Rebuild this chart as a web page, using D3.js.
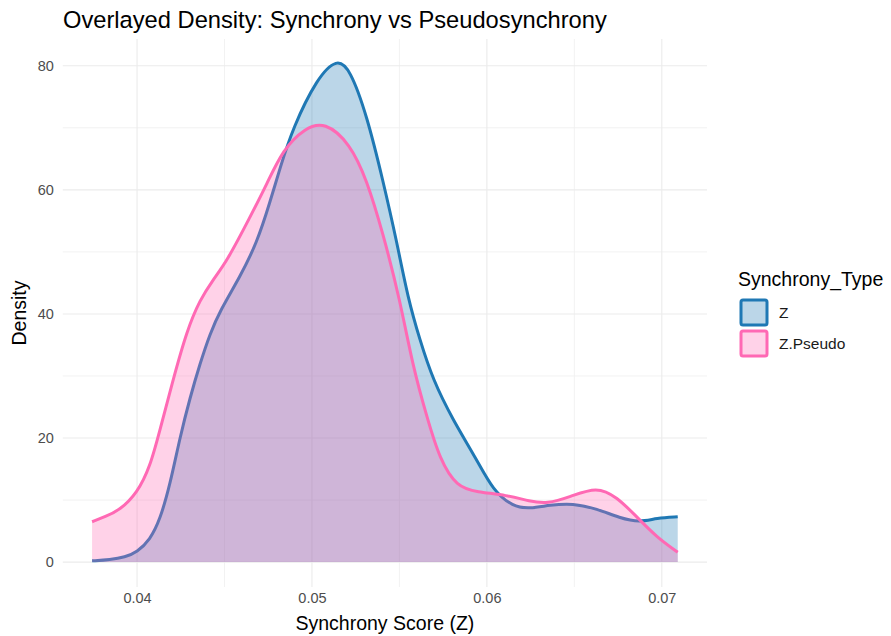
<!DOCTYPE html>
<html>
<head>
<meta charset="utf-8">
<script src="https://cdn.jsdelivr.net/npm/d3@7"></script>
<style>
  body { margin: 0; background: #fff; }
  text { font-family: "Liberation Sans", Arial, sans-serif; }
</style>
</head>
<body>
<div id="chart"></div>
<script>
// density estimates
var zX = [0.03743, 0.03846, 0.03931, 0.04000, 0.04074, 0.04131, 0.04189, 0.04246, 0.04303, 0.04360,
          0.04417, 0.04474, 0.04589, 0.04686, 0.04760, 0.04817, 0.04891, 0.05029, 0.05143, 0.05217,
          0.05314, 0.05406, 0.05486, 0.05549, 0.05617, 0.05691, 0.05806, 0.05943, 0.06034, 0.06149,
          0.06246, 0.06360, 0.06491, 0.06629, 0.06760, 0.06874, 0.06971, 0.07091];
var zY = [0.2, 0.4, 0.8, 1.6, 3.6, 6.8, 12.5, 20.2, 26.5, 32,
          36.8, 40.5, 46, 51.5, 58, 63.5, 70, 78, 81.2, 79.5,
          72, 61.5, 51.5, 42.5, 35.8, 29.4, 22.9, 16.5, 11.6, 8.9,
          8.6, 9.2, 9.5, 8.6, 7.1, 6.4, 7.1, 7.3];

var pX = [0.03743, 0.03817, 0.03903, 0.04000, 0.04074, 0.04131, 0.04206, 0.04286, 0.04360, 0.04434,
          0.04514, 0.04646, 0.04743, 0.04834, 0.04960, 0.05074, 0.05217, 0.05314, 0.05406, 0.05503,
          0.05577, 0.05657, 0.05731, 0.05829, 0.05943, 0.06114, 0.06246, 0.06343, 0.06474, 0.06629,
          0.06743, 0.06857, 0.06971, 0.07091];
var pY = [6.5, 7.3, 8.4, 11.1, 15.3, 21.3, 29.4, 37.4, 42.3, 45.5,
          48.5, 55.6, 61, 66.5, 70, 71, 67.5, 61.6, 53, 42.3,
          31.5, 23.4, 16.5, 12.1, 11.3, 10.8, 9.8, 9.4, 10.5, 12.2,
          10.5, 7.3, 4.0, 1.6];

var groups = ["Z", "Z.Pseudo"];
var lineColors = ["#1f78b4", "#ff69b4"];
var xTicks = [0.04, 0.05, 0.06, 0.07];
var yTicks = [0, 20, 40, 60, 80];

var W = 891, H = 636;
var pLeft = 62.8, pRight = 707, pTop = 39, pBottom = 587;

var svg = d3.select("#chart").append("svg")
    .attr("width", W)
    .attr("height", H);

// ggplot style 5% expansion
var xExt = [d3.min(zX.concat(pX)), d3.max(zX.concat(pX))];
var xPad = (xExt[1] - xExt[0]) * 0.05;
var yMax = 80.3;
var yPad = yMax * 0.05;

var x = d3.scaleLinear().domain([xExt[0] - xPad, xExt[1] + xPad]).range([pLeft, pRight]);
var y = d3.scaleLinear().domain([-yPad, yMax + yPad]).range([pBottom, pTop]);

// grid
var xMinor = [0.045, 0.055, 0.065];
var yMinor = [10, 30, 50, 70];
var grid = svg.append("g");
grid.selectAll(".xm").data(xMinor).enter().append("line")
    .attr("x1", d => x(d)).attr("x2", d => x(d))
    .attr("y1", pTop).attr("y2", pBottom)
    .attr("stroke", "#f1f1f1").attr("stroke-width", 0.9);
grid.selectAll(".ym").data(yMinor).enter().append("line")
    .attr("y1", d => y(d)).attr("y2", d => y(d))
    .attr("x1", pLeft).attr("x2", pRight)
    .attr("stroke", "#f1f1f1").attr("stroke-width", 0.9);
grid.selectAll(".xM").data(xTicks).enter().append("line")
    .attr("x1", d => x(d)).attr("x2", d => x(d))
    .attr("y1", pTop).attr("y2", pBottom)
    .attr("stroke", "#ebebeb").attr("stroke-width", 1.1);
grid.selectAll(".yM").data(yTicks).enter().append("line")
    .attr("y1", d => y(d)).attr("y2", d => y(d))
    .attr("x1", pLeft).attr("x2", pRight)
    .attr("stroke", "#ebebeb").attr("stroke-width", 1.1);

// densities
var series = [
    { name: groups[0], color: lineColors[0], pts: zX.map((v, i) => [v, zY[i]]) },
    { name: groups[1], color: lineColors[1], pts: pX.map((v, i) => [v, pY[i]]) }
];

var area = d3.area()
    .x(d => x(d[0])).y0(y(0)).y1(d => y(d[1]))
    .curve(d3.curveBasis);
var line = d3.line()
    .x(d => x(d[0])).y(d => y(d[1]))
    .curve(d3.curveBasis);

series.forEach(function(s) {
    svg.append("path")
        .attr("d", area(s.pts))
        .attr("fill", s.color)
        .attr("fill-opacity", 0.3);
    svg.append("path")
        .attr("d", line(s.pts))
        .attr("fill", "none")
        .attr("stroke", s.color)
        .attr("stroke-width", 3);
});

// axes (labels only, like theme_minimal)
var xAxis = svg.append("g")
    .attr("transform", "translate(0," + (pBottom + 5) + ")")
    .call(d3.axisBottom(x).tickValues(xTicks).tickSize(0).tickPadding(0).tickFormat(d3.format(".2f")));
xAxis.select(".domain").remove();
xAxis.selectAll("text")
    .attr("fill", "#4d4d4d").attr("font-size", 14.5).attr("dy", "0.75em");

var yAxis = svg.append("g")
    .attr("transform", "translate(" + (pLeft - 9) + ",0)")
    .call(d3.axisLeft(y).tickValues(yTicks).tickSize(0).tickPadding(0));
yAxis.select(".domain").remove();
yAxis.selectAll("text")
    .attr("fill", "#4d4d4d").attr("font-size", 14.5);

// titles
svg.append("text")
    .attr("x", 63).attr("y", 28)
    .attr("font-size", 23.7).attr("fill", "#000")
    .text("Overlayed Density: Synchrony vs Pseudosynchrony");

svg.append("text")
    .attr("x", (pLeft + pRight) / 2).attr("y", 630)
    .attr("text-anchor", "middle")
    .attr("font-size", 19.5).attr("fill", "#000")
    .text("Synchrony Score (Z)");

svg.append("text")
    .attr("transform", "translate(26," + ((pTop + pBottom) / 2) + ") rotate(-90)")
    .attr("text-anchor", "middle")
    .attr("font-size", 19.5).attr("fill", "#000")
    .text("Density");

// legend
var legend = svg.append("g");
legend.append("text")
    .attr("x", 738).attr("y", 286)
    .attr("font-size", 19.5).attr("fill", "#000")
    .text("Synchrony_Type");

var keys = legend.selectAll(".key").data(series).enter().append("g")
    .attr("transform", (d, i) => "translate(741," + (300 + i * 31) + ")");
keys.append("rect")
    .attr("width", 26).attr("height", 25)
    .attr("rx", 2)
    .attr("fill", d => d.color).attr("fill-opacity", 0.3)
    .attr("stroke", d => d.color).attr("stroke-width", 3);
keys.append("text")
    .attr("x", 38).attr("y", 12.5)
    .attr("dy", "0.35em")
    .attr("font-size", 15.5).attr("fill", "#1a1a1a")
    .text(d => d.name);
</script>
</body>
</html>
